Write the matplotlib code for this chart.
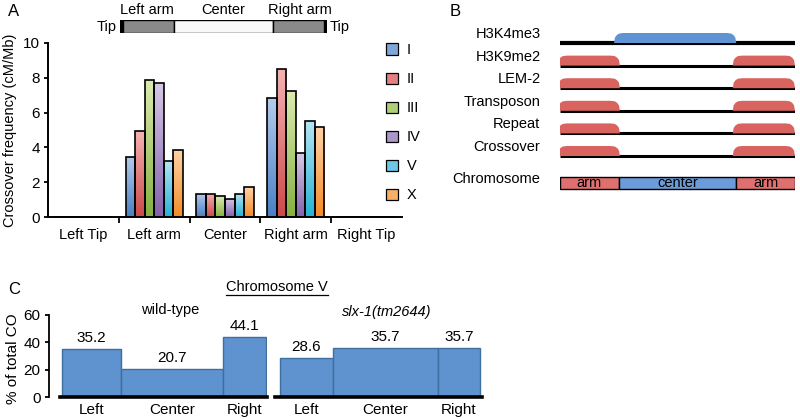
import numpy as np
import matplotlib
matplotlib.use("Agg")
import matplotlib.pyplot as plt
from matplotlib.patches import Patch, Rectangle, Polygon
from matplotlib.colors import LinearSegmentedColormap
from matplotlib.lines import Line2D
from matplotlib.transforms import IdentityTransform

# ---- data ----
# panel A: crossover frequency per chromosome region
regions = ["Left Tip", "Left arm", "Center", "Right arm", "Right Tip"]
chroms = ["I", "II", "III", "IV", "V", "X"]
freq_I = [0, 3.45, 1.35, 6.82, 0]
freq_II = [0, 4.94, 1.35, 8.5, 0]
freq_III = [0, 7.85, 1.19, 7.27, 0]
freq_IV = [0, 7.68, 1.06, 3.67, 0]
freq_V = [0, 3.23, 1.35, 5.5, 0]
freq_X = [0, 3.83, 1.71, 5.17, 0]

# chromosome domain boundaries (fraction of length)
domain_bounds = [0, 0.25, 0.75, 1.0]
domain_names = ["arm", "center", "arm"]

# panel B: features enriched in arms or center
features = ["H3K4me3", "H3K9me2", "LEM-2", "Transposon", "Repeat", "Crossover"]
enriched = ["center", "arms", "arms", "arms", "arms", "arms"]

# panel C: % of total CO on chromosome V (bar widths = region sizes)
c_regions = ["Left", "Center", "Right"]
wt_widths = [59, 102, 43]
slx_widths = [53, 105, 42]
wt_pct = [35.2, 20.7, 44.1]
slx_pct = [28.6, 35.7, 35.7]

# ---- style ----
plt.rcParams["font.family"] = ["Liberation Sans", "DejaVu Sans"]

top_cols = ["#b4cbea", "#f4b2b2", "#dcebb0", "#d6c8e6", "#b6e4f4", "#ffd2a6"]
bot_cols = ["#4a80c4", "#cc4a4a", "#86b040", "#8462ac", "#26b2d4", "#f28c28"]
mid_cols = ["#7fa6d8", "#e68080", "#b0d078", "#ad96cc", "#6cc8e4", "#f8b068"]

W, H = 800, 419
fig = plt.figure(figsize=(8, 4.19), dpi=100)


def px(x0, y0, x1, y1):
    return [x0 / W, 1 - y1 / H, (x1 - x0) / W, (y1 - y0) / H]


def grad_bar(ax, rect, top, bottom):
    x, y = rect.get_x(), rect.get_y()
    w, h = rect.get_width(), rect.get_height()
    cmap = LinearSegmentedColormap.from_list("g", [bottom, top])
    grad = np.linspace(0, 1, 64).reshape(-1, 1)
    im = ax.imshow(grad, extent=[x, x + w, y, y + h], origin="lower",
                   cmap=cmap, aspect="auto", zorder=1)
    im.set_clip_path(rect)


# ---- panel A ----
fig.text(8 / W, 1 - 12 / H, "A", fontsize=12, va="center")
axA = fig.add_axes(px(48, 43, 402, 217))
series = [freq_I, freq_II, freq_III, freq_IV, freq_V, freq_X]
xs = np.arange(len(regions))
bw = 0.135
for i, vals in enumerate(series):
    bars = axA.bar(xs + (i - 2.5) * bw, vals, bw, facecolor="none",
                   edgecolor="black", linewidth=1.2, zorder=2)
    for b, v in zip(bars, vals):
        if v > 0:
            grad_bar(axA, b, top_cols[i], bot_cols[i])
axA.set_xlim(-0.5, 4.5)
axA.set_ylim(0, 10)
axA.set_yticks([0, 2, 4, 6, 8, 10])
axA.set_xticks(xs)
axA.set_xticklabels(regions, fontsize=10.5)
axA.set_xticks(xs[:-1] + 0.5, minor=True)
axA.tick_params(axis="x", which="major", length=0, pad=8)
axA.tick_params(axis="x", which="minor", length=4, width=1.3, direction="out")
axA.tick_params(axis="y", length=3, width=1.3, labelsize=11, pad=3)
for s in ["top", "right"]:
    axA.spines[s].set_visible(False)
for s in ["left", "bottom"]:
    axA.spines[s].set_linewidth(1.4)
axA.set_ylabel("Crossover frequency (cM/Mb)", fontsize=10.5, labelpad=4)
handles = [Patch(facecolor=c, edgecolor="black", linewidth=0.9) for c in mid_cols]
fig.legend(handles, chroms, loc="upper left", bbox_to_anchor=(373 / W, 1 - 30 / H),
           frameon=False, handlelength=0.8, handleheight=0.8, handletextpad=0.6,
           labelspacing=1.03, fontsize=10.5)

# schematic chromosome above panel A
axS = fig.add_axes(px(120, 20, 327, 33))
axS.set_xlim(0, 1)
axS.set_ylim(0, 1)
axS.axis("off")
fills = ["#8a8a8a", "#f8f8f8", "#8a8a8a"]
sch_bounds = [0, 0.26, 0.74, 1.0]
for k in range(3):
    axS.add_patch(Rectangle((sch_bounds[k], 0), sch_bounds[k + 1] - sch_bounds[k], 1,
                            facecolor=fills[k], edgecolor="black", linewidth=1.0))
axS.add_patch(Rectangle((0, 0), 0.014, 1, facecolor="black", edgecolor="black"))
axS.add_patch(Rectangle((0.986, 0), 0.014, 1, facecolor="black", edgecolor="black"))
for k, lab in enumerate(["Left arm", "Center", "Right arm"]):
    axS.text((sch_bounds[k] + sch_bounds[k + 1]) / 2, 1.75, lab, ha="center",
             va="center", fontsize=10.5)
axS.text(-0.015, 0.5, "Tip", ha="right", va="center", fontsize=10.5)
axS.text(1.015, 0.5, "Tip", ha="left", va="center", fontsize=10.5)

# ---- panel B ----
fig.text(450 / W, 1 - 12 / H, "B", fontsize=12, va="center")
axB = fig.add_axes(px(560, 20, 795, 200))
axB.set_xlim(0, 1)
axB.set_ylim(200, 20)
axB.axis("off")
row_y = 43
step = 22.6
for i, (name, where) in enumerate(zip(features, enriched)):
    y0 = row_y + i * step
    lw = 3 if i == 0 else 2.2
    axB.plot([0, 1], [y0, y0], color="black", linewidth=lw, solid_capstyle="butt", zorder=1)
    if where == "center":
        spans = [(domain_bounds[1] - 0.02, domain_bounds[2])]
        col = "#5f93d2"
    else:
        spans = [(domain_bounds[0] - 0.01, domain_bounds[1] + 0.005),
                 (domain_bounds[2] - 0.015, domain_bounds[3])]
        col = "#d9645f"
    h = 10
    for a, b in spans:
        d = 0.04
        pts = [(a, y0), (a + d * 0.1, y0 - h * 0.55), (a + d * 0.3, y0 - h * 0.8),
               (a + d * 0.55, y0 - h * 0.95), (a + d, y0 - h), (b - d, y0 - h),
               (b - d * 0.55, y0 - h * 0.95), (b - d * 0.3, y0 - h * 0.8),
               (b - d * 0.1, y0 - h * 0.55), (b, y0)]
        axB.add_patch(Polygon(pts, closed=True, facecolor=col, edgecolor="none", zorder=2))
    axB.text(-0.083, y0 - 9, name, ha="right", va="center", fontsize=10.5)

cy = 183
dom_cols = ["#e07070", "#6b9bd8", "#e07070"]
for k in range(3):
    axB.add_patch(Rectangle((domain_bounds[k], cy - 6), domain_bounds[k + 1] - domain_bounds[k],
                            12, facecolor=dom_cols[k], edgecolor="black", linewidth=1.0))
    axB.text((domain_bounds[k] + domain_bounds[k + 1]) / 2, cy, domain_names[k],
             ha="center", va="center", fontsize=10.5)
axB.text(-0.083, cy - 4, "Chromosome", ha="right", va="center", fontsize=10.5)

# ---- panel C ----
fig.text(8 / W, 1 - 289 / H, "C", fontsize=12, va="center")
t = fig.text(277 / W, 1 - 287 / H, "Chromosome V", ha="center", va="center",
             fontsize=10.5)
fig.text(170 / W, 1 - 310 / H, "wild-type", ha="center", va="center", fontsize=10.5)
fig.text(387 / W, 1 - 312 / H, "slx-1(tm2644)", ha="center", va="center",
         fontsize=10.5, style="italic")

bar_col = "#5f93cf"
edge_col = "#3f6f9f"

axC1 = fig.add_axes(px(49, 315, 267, 397))
axC1.set_xlim(-13, 205)
axC1.spines["bottom"].set_bounds(-2, 205)
axC1.set_yticks([0, 20, 40, 60])
axC1.set_ylabel("% of total CO", fontsize=11)
axC1.yaxis.set_label_coords(-0.135, 0.47)

axC2 = fig.add_axes(px(275, 315, 482, 397))
axC2.set_xlim(-5, 202)
axC2.set_yticks([])
axC2.spines["left"].set_visible(False)

for ax, widths, vals in [(axC1, wt_widths, wt_pct), (axC2, slx_widths, slx_pct)]:
    left_edges = np.concatenate([[0], np.cumsum(widths)[:-1]])
    centers = left_edges + np.array(widths) / 2
    ax.bar(left_edges, vals, widths, align="edge", color=bar_col,
           edgecolor=edge_col, linewidth=1.0)
    ax.set_ylim(0, 60)
    for s in ["top", "right"]:
        ax.spines[s].set_visible(False)
    ax.spines["bottom"].set_linewidth(2.6)
    ax.spines["left"].set_linewidth(1.3)
    ax.set_xticks(centers)
    ax.set_xticklabels(c_regions, fontsize=11)
    ax.tick_params(axis="x", length=0, pad=4)
    ax.tick_params(axis="y", length=3, width=1.3, labelsize=11, pad=3)
    for cx, v in zip(centers, vals):
        ax.text(cx, v + 3, f"{v:.1f}", ha="center", va="bottom", fontsize=11)

# underline for "Chromosome V"
fig.canvas.draw()
bb = t.get_window_extent()
fig.add_artist(Line2D([bb.x0, bb.x1], [bb.y0 - 1, bb.y0 - 1], color="black",
                      linewidth=0.9, transform=IdentityTransform()))

fig.savefig("out.png", dpi=100)
